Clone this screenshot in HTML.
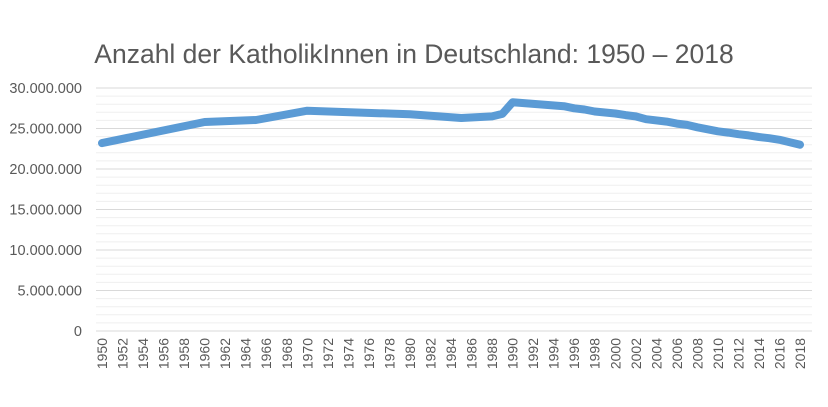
<!DOCTYPE html><html><head><meta charset="utf-8"><style>body{margin:0;background:#fff}svg{display:block;font-family:"Liberation Sans",sans-serif}</style></head><body>
<svg width="828" height="407" xmlns="http://www.w3.org/2000/svg">
<text x="414" y="63" text-anchor="middle" font-size="26.5" fill="#595959">Anzahl der KatholikInnen in Deutschland: 1950 – 2018</text>
<g stroke="#efefef" stroke-width="1">
<line x1="96" x2="812" y1="322.9" y2="322.9"/><line x1="96" x2="812" y1="314.8" y2="314.8"/><line x1="96" x2="812" y1="306.7" y2="306.7"/><line x1="96" x2="812" y1="298.6" y2="298.6"/>
<line x1="96" x2="812" y1="282.4" y2="282.4"/><line x1="96" x2="812" y1="274.3" y2="274.3"/><line x1="96" x2="812" y1="266.2" y2="266.2"/><line x1="96" x2="812" y1="258.1" y2="258.1"/>
<line x1="96" x2="812" y1="241.9" y2="241.9"/><line x1="96" x2="812" y1="233.8" y2="233.8"/><line x1="96" x2="812" y1="225.7" y2="225.7"/><line x1="96" x2="812" y1="217.6" y2="217.6"/>
<line x1="96" x2="812" y1="201.4" y2="201.4"/><line x1="96" x2="812" y1="193.3" y2="193.3"/><line x1="96" x2="812" y1="185.2" y2="185.2"/><line x1="96" x2="812" y1="177.1" y2="177.1"/>
<line x1="96" x2="812" y1="160.9" y2="160.9"/><line x1="96" x2="812" y1="152.8" y2="152.8"/><line x1="96" x2="812" y1="144.7" y2="144.7"/><line x1="96" x2="812" y1="136.6" y2="136.6"/>
<line x1="96" x2="812" y1="120.4" y2="120.4"/><line x1="96" x2="812" y1="112.3" y2="112.3"/><line x1="96" x2="812" y1="104.2" y2="104.2"/><line x1="96" x2="812" y1="96.1" y2="96.1"/>
</g>
<g stroke="#d9d9d9" stroke-width="1">
<line x1="96" x2="812" y1="331" y2="331"/><line x1="96" x2="812" y1="290.5" y2="290.5"/><line x1="96" x2="812" y1="250" y2="250"/><line x1="96" x2="812" y1="209.5" y2="209.5"/><line x1="96" x2="812" y1="169" y2="169"/><line x1="96" x2="812" y1="128.5" y2="128.5"/><line x1="96" x2="812" y1="88" y2="88"/>
</g>
<g font-size="14.5" fill="#595959" text-anchor="end">
<text x="82" y="336">0</text><text x="82" y="295.5">5.000.000</text><text x="82" y="255">10.000.000</text><text x="82" y="214.5">15.000.000</text><text x="82" y="174">20.000.000</text><text x="82" y="133.5">25.000.000</text><text x="82" y="93">30.000.000</text>
</g>
<g font-size="14" fill="#595959" text-anchor="end">
<text transform="translate(107,338) rotate(-90)">1950</text>
<text transform="translate(127.5,338) rotate(-90)">1952</text>
<text transform="translate(148.1,338) rotate(-90)">1954</text>
<text transform="translate(168.6,338) rotate(-90)">1956</text>
<text transform="translate(189.1,338) rotate(-90)">1958</text>
<text transform="translate(209.7,338) rotate(-90)">1960</text>
<text transform="translate(230.2,338) rotate(-90)">1962</text>
<text transform="translate(250.7,338) rotate(-90)">1964</text>
<text transform="translate(271.2,338) rotate(-90)">1966</text>
<text transform="translate(291.8,338) rotate(-90)">1968</text>
<text transform="translate(312.3,338) rotate(-90)">1970</text>
<text transform="translate(332.8,338) rotate(-90)">1972</text>
<text transform="translate(353.4,338) rotate(-90)">1974</text>
<text transform="translate(373.9,338) rotate(-90)">1976</text>
<text transform="translate(394.4,338) rotate(-90)">1978</text>
<text transform="translate(415,338) rotate(-90)">1980</text>
<text transform="translate(435.5,338) rotate(-90)">1982</text>
<text transform="translate(456,338) rotate(-90)">1984</text>
<text transform="translate(476.5,338) rotate(-90)">1986</text>
<text transform="translate(497.1,338) rotate(-90)">1988</text>
<text transform="translate(517.6,338) rotate(-90)">1990</text>
<text transform="translate(538.1,338) rotate(-90)">1992</text>
<text transform="translate(558.7,338) rotate(-90)">1994</text>
<text transform="translate(579.2,338) rotate(-90)">1996</text>
<text transform="translate(599.7,338) rotate(-90)">1998</text>
<text transform="translate(620.3,338) rotate(-90)">2000</text>
<text transform="translate(640.8,338) rotate(-90)">2002</text>
<text transform="translate(661.3,338) rotate(-90)">2004</text>
<text transform="translate(681.8,338) rotate(-90)">2006</text>
<text transform="translate(702.4,338) rotate(-90)">2008</text>
<text transform="translate(722.9,338) rotate(-90)">2010</text>
<text transform="translate(743.4,338) rotate(-90)">2012</text>
<text transform="translate(764,338) rotate(-90)">2014</text>
<text transform="translate(784.5,338) rotate(-90)">2016</text>
<text transform="translate(805,338) rotate(-90)">2018</text>
</g>
<polyline fill="none" stroke="#5b9bd5" stroke-width="8" stroke-linecap="round" stroke-linejoin="round" points="102,143.1 204.65,122 255.98,120 307.3,110.7 409.95,114.3 461.28,118 492.07,116.4 502.34,113.9 512.6,102.2 563.93,106.2 574.19,108.3 584.46,109.5 594.72,111.5 615.25,113.5 625.52,115.1 635.78,116.4 646.05,119.2 666.58,121.6 676.84,123.6 687.11,124.9 697.37,127.3 707.64,129.3 717.9,131.3 728.17,132.6 738.43,134.2 748.7,135.4 758.96,137 769.23,138.2 779.49,139.8 789.76,142.3 800.02,144.7"/>
</svg></body></html>
